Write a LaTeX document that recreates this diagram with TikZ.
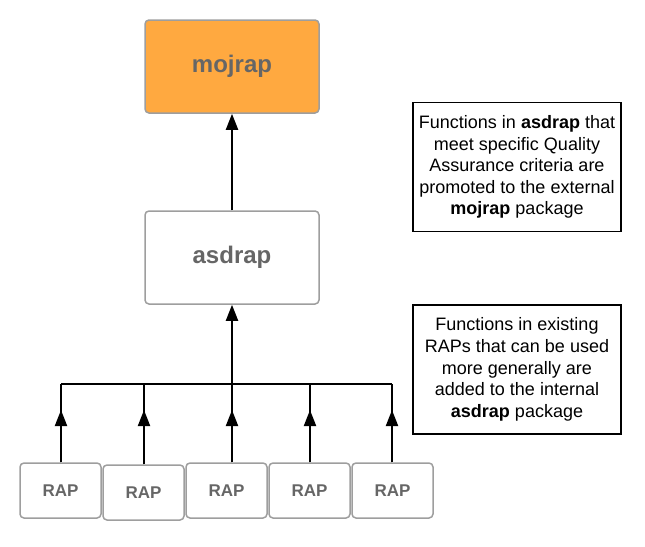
\documentclass[tikz,border=0pt]{standalone}
\usepackage{fontspec}
\setmainfont{Liberation Sans}
\usepackage{tikz}
\usetikzlibrary{positioning, arrows.meta}
\definecolor{pkg-orange}{HTML}{FFA940}
\definecolor{pkg-border}{HTML}{9E9E9E}
\definecolor{pkg-text}{HTML}{666666}

\begin{document}
\begin{tikzpicture}[x=1pt, y=-1pt,
    pkg/.style={draw=pkg-border, line width=1.5pt, rounded corners=4pt, minimum width=174pt,
        minimum height=93pt, font=\fontsize{24}{28}\selectfont\bfseries, text=pkg-text},
    rap/.style={draw=pkg-border, line width=1.5pt, rounded corners=4pt, minimum width=81pt,
        minimum height=55pt, font=\fontsize{17}{20}\selectfont\bfseries, text=pkg-text},
    note/.style={draw, line width=1.5pt, minimum width=208pt, minimum height=129pt,
        align=center, font=\fontsize{18}{21.6}\selectfont},
    link/.style={line width=2pt},
    up/.style={link, -{Triangle[length=16pt, width=12pt]}},
]
    \useasboundingbox (0,0) rectangle (645,546);

    % Packages
    \node[pkg, fill=pkg-orange] (mojrap) at (232, 66.5) {mojrap};
    \node[pkg, fill=white] (asdrap) at (232, 257.5) {asdrap};

    % Notes
    \node[note] (note-qa) at (517, 167) {Functions in \textbf{asdrap} that\\meet specific Quality\\
        Assurance criteria are\\promoted to the external\\\textbf{mojrap} package};
    \node[note] (note-rap) at (517, 369.5) {Functions in existing\\RAPs that can be used\\
        more generally are\\added to the internal\\\textbf{asdrap} package};

    % RAPs
    \foreach \i/\x/\y in {1/60.5/490.5, 2/143.5/492.5, 3/226.5/490.5, 4/309.5/490.5, 5/392.5/490.5} {
        \node[rap] (rap\i) at (\x, \y) {RAP};
    }

    % Connectors
    \coordinate (trunk) at (232, 384);
    \draw[link] (61, 384) -- (392, 384);
    \foreach \i/\lx in {1/61, 2/144, 3/232, 4/310, 5/392} {
        \coordinate (foot\i) at (\lx, 0 |- rap\i.north);
        \draw[link] (foot\i) -- (\lx, 384);
        \draw[up] (foot\i) -- (\lx, 410);
    }
    \draw[up] (trunk) -- (asdrap.south);
    \draw[up] (asdrap.north) -- (mojrap.south);

\end{tikzpicture}
\end{document}
